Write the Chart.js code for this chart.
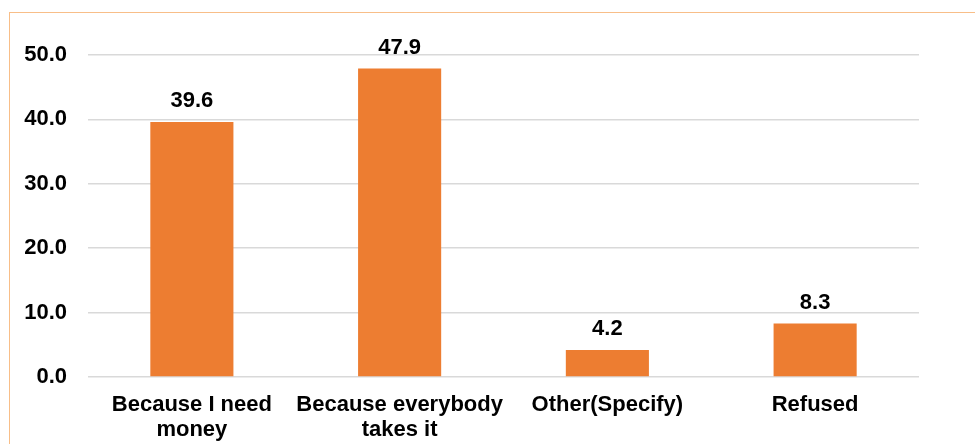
<!DOCTYPE html>
<html>
<head>
<meta charset="utf-8">
<script src="https://cdn.jsdelivr.net/npm/chart.js@4"></script>
<style>
  html, body { margin: 0; padding: 0; background: #fff; overflow: hidden; }
  #frame {
    position: absolute; left: 9px; top: 12px;
    width: 1200px; height: 800px;
    border: 1.5px solid #F8BE88;
  }
  #chart { position: absolute; left: 0; top: 0; }
</style>
</head>
<body>
<div id="frame"></div>
<canvas id="chart" width="975" height="444"></canvas>
<script>
var categories = [
    ['Because I need', 'money'],
    ['Because everybody', 'takes it'],
    'Other(Specify)',
    'Refused'
];
var values = [39.6, 47.9, 4.2, 8.3];
var yTicks = [0, 10, 20, 30, 40, 50];

var fontFamily = '"Liberation Sans", Arial, Helvetica, sans-serif';

// writes the value above each bar
var valueLabels = {
    id: 'valueLabels',
    afterDatasetsDraw: function (chart) {
        var ctx = chart.ctx;
        var meta = chart.getDatasetMeta(0);
        ctx.save();
        ctx.font = 'bold 22px ' + fontFamily;
        ctx.fillStyle = '#000';
        ctx.textAlign = 'center';
        ctx.textBaseline = 'alphabetic';
        meta.data.forEach(function (bar, i) {
            ctx.fillText(values[i].toFixed(1), bar.x, bar.y - 15);
        });
        ctx.restore();
    }
};

var ctx = document.getElementById('chart');
var chart = new Chart(ctx, {
    type: 'bar',
    data: {
        labels: categories,
        datasets: [{
            data: values,
            backgroundColor: '#ED7D31',
            barPercentage: 0.4,
            categoryPercentage: 1.0
        }]
    },
    options: {
        responsive: false,
        animation: false,
        layout: {
            padding: { left: 0, top: 55, right: 56, bottom: 0 }
        },
        plugins: {
            legend: { display: false },
            tooltip: { enabled: false }
        },
        scales: {
            x: {
                afterFit: function (scale) {
                    scale.height = 67;
                },
                grid: { display: false, drawTicks: false },
                border: { display: false },
                ticks: {
                    color: '#000',
                    padding: 15,
                    maxRotation: 0,
                    autoSkip: false,
                    font: { family: fontFamily, size: 22, weight: 'bold', lineHeight: 1.136 }
                }
            },
            y: {
                min: 0,
                max: 50,
                afterBuildTicks: function (scale) {
                    scale.ticks = yTicks.map(function (v) { return { value: v }; });
                },
                afterFit: function (scale) {
                    scale.width = 88;
                },
                grid: { color: '#D9D9D9', lineWidth: 1.5, drawTicks: false },
                border: { display: false },
                ticks: {
                    color: '#000',
                    padding: 21,
                    font: { family: fontFamily, size: 22, weight: 'bold' },
                    callback: function (v) { return Number(v).toFixed(1); }
                }
            }
        }
    },
    plugins: [valueLabels]
});
</script>
</body>
</html>
